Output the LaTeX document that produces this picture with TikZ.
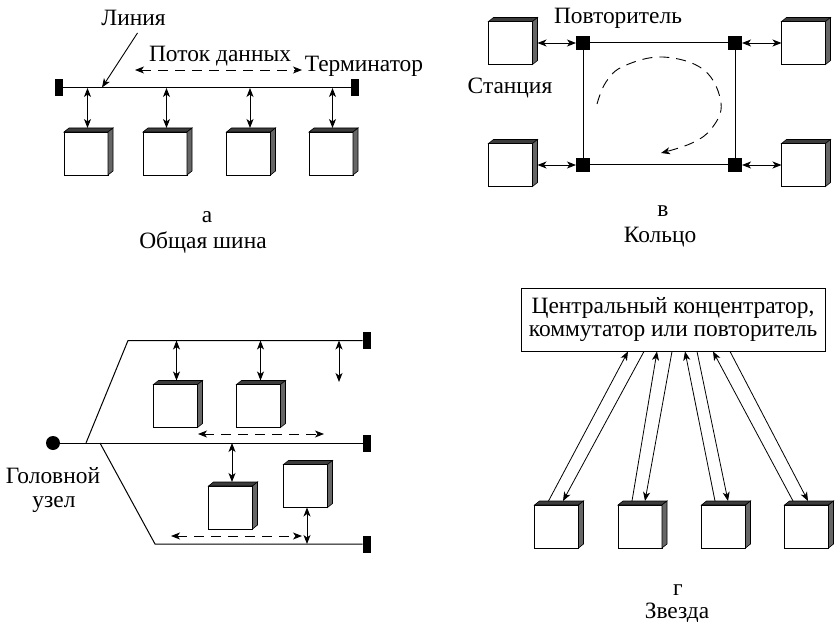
\documentclass[tikz,border=0pt]{standalone}
\usepackage{fontspec}
\setmainfont{Liberation Serif}
\newfontfamily\figfont{Liberation Serif}
\usetikzlibrary{arrows.meta}

\definecolor{cubetop}{HTML}{3C3C3C}
\definecolor{cubeside}{HTML}{666666}

% side and top faces of a station cube, drawn behind its front face
\newcommand\cubefaces[1]{%
  \filldraw[cubetop, draw=black, line width=0.6bp]
    (#1.north west) -- ++(5,-4) -- ++(44,0) -- (#1.north east) -- cycle;
  \filldraw[cubeside, draw=black, line width=0.6bp]
    (#1.north east) -- ++(5,-4) -- ++(0,43) -- (#1.south east) -- cycle;}

\begin{document}
\begin{tikzpicture}[x=1bp, y=-1bp,
  lbl/.style={font=\figfont\fontsize{23.5}{23.5}\selectfont, inner sep=0pt},
  wire/.style={line width=1bp},
  link/.style={line width=0.9bp,
    {Stealth[length=9bp,width=7bp,inset=2.5bp]}-{Stealth[length=9bp,width=7bp,inset=2.5bp]}},
  arr/.style={line width=0.8bp, -{Stealth[length=9bp,width=7bp,inset=2.5bp]}},
  flow/.style={line width=0.9bp, dash pattern=on 10bp off 7bp,
    {Stealth[length=9bp,width=7bp,inset=2.5bp]}-{Stealth[length=9bp,width=7bp,inset=2.5bp]}},
  loopflow/.style={line width=0.9bp, dash pattern=on 10bp off 7bp,
    -{Stealth[length=9bp,width=7bp,inset=2.5bp]}},
  term/.style={fill=black, minimum width=8bp, minimum height=17bp, inner sep=0pt, outer sep=0pt},
  rep/.style={fill=black, minimum size=14bp, inner sep=0pt, outer sep=0pt},
  station/.style={draw, fill=white, line width=0.8bp, minimum width=44bp,
    minimum height=43bp, inner sep=0pt, outer sep=0pt}]

\useasboundingbox (0,0) rectangle (835,622);

% ---------- (а) common bus ----------
\node[term] (tL) at (58.5,88) {};
\node[term] (tR) at (354.5,88) {};
\draw[wire] (tL) -- (tR);

\node[station] (a1) at (86,153.5) {};
\node[station] (a2) at (165,153.5) {};
\node[station] (a3) at (248.5,153.5) {};
\node[station] (a4) at (331,153.5) {};
\foreach \s in {a1,a2,a3,a4} {
  \cubefaces{\s}
  \draw[link] ([xshift=1.5bp]\s.north |- tL) -- ([xshift=1.5bp,yshift=4bp]\s.north);
}

\node[lbl] (lin) at (133.5,18) {Линия};
\coordinate (busp) at (102,87.5);
\draw[line width=0.9bp, -{Stealth[length=9bp,width=7bp,inset=2.5bp]}]
  ([xshift=4bp,yshift=-7bp]lin.south) -- (busp);

\node[lbl] (flowlbl) at (220,56) {Поток данных};
\coordinate (fa1) at (135,70);
\coordinate (fa2) at (302,70);
\draw[flow] (fa1) -- (fa2);

\node[lbl] (termlbl) at (364,66) {Терминатор};

\node[lbl, anchor=base] (capa) at (207,223) {а};
\node[lbl, anchor=base] (capa2) at (203,249) {Общая шина};

% ---------- (в) ring ----------
\node[rep] (r1) at (583,43) {};
\node[rep] (r2) at (735,43) {};
\node[rep] (r3) at (583,165) {};
\node[rep] (r4) at (735,165) {};
\draw[wire] (r1) -- (r2);
\draw[wire] (r2) -- (r4);
\draw[wire] (r4) -- (r3);
\draw[wire] (r3) -- (r1);

\node[station] (b1) at (510.5,43) {};
\node[station] (b2) at (803.5,43) {};
\node[station] (b3) at (510.5,165) {};
\node[station] (b4) at (803.5,165) {};
\foreach \s in {b1,b2,b3,b4} {\cubefaces{\s}}
\draw[link] ([xshift=5bp]b1.east) -- (r1.west);
\draw[link] ([xshift=5bp]b3.east) -- (r3.west);
\draw[link] (r2.east) -- (b2.west);
\draw[link] (r4.east) -- (b4.west);

\draw[loopflow] plot[smooth, tension=0.65] coordinates
  {(597,104) (606,82) (624,66) (663,57) (704,70) (721,103) (712,128) (692,143) (661,153)};

\node[lbl] (replbl) at (618,18) {Повторитель};
\node[lbl] (stlbl) at (510,88) {Станция};
\node[lbl, anchor=base] (capb) at (663,217) {в};
\node[lbl, anchor=base] (capb2) at (660,243) {Кольцо};

% ---------- (б) tree ----------
\node[circle, fill=black, minimum size=14bp, inner sep=0pt] (head) at (53,443) {};
\node[term] (t1) at (366.5,340.5) {};
\node[term] (t2) at (366.5,443) {};
\node[term] (t3) at (366.5,544) {};
\coordinate (jA) at (86,443);
\coordinate (jB) at (100,443);
\coordinate (kA) at (128,340.5);
\coordinate (kB) at (155,544);
\draw[wire] (head) -- (t2);
\draw[wire] (jA) -- (kA) -- (t1);
\draw[wire] (jB) -- (kB) -- (t3);

\node[station] (c1) at (175.5,406) {};
\node[station] (c2) at (258.5,406) {};
\node[station] (c3) at (230.5,507.5) {};
\node[station] (c4) at (305.5,486) {};
\foreach \s in {c1,c2,c3,c4} {\cubefaces{\s}}
\draw[link] ([xshift=1bp]c1.north |- t1) -- ([xshift=1bp,yshift=4bp]c1.north);
\draw[link] ([xshift=2bp]c2.north |- t1) -- ([xshift=2bp,yshift=4bp]c2.north);
\coordinate (free) at (339,382);
\draw[link] (free |- t1) -- (free);
\draw[link] ([xshift=1.5bp]c3.north |- t2) -- ([xshift=1.5bp,yshift=4bp]c3.north);
\draw[link] ([xshift=1.5bp]c4.south) -- ([xshift=1.5bp]c4.south |- t3);

\coordinate (m1) at (198,434);
\coordinate (m2) at (324,434);
\draw[flow] (m1) -- (m2);
\coordinate (n1) at (171,536);
\coordinate (n2) at (302,536);
\draw[flow] (n1) -- (n2);

\node[lbl, anchor=base] (headlbl) at (53,483) {Головной};
\node[lbl, anchor=base] (headlbl2) at (54,507) {узел};

% ---------- (г) star ----------
\node[draw, line width=0.9bp, lbl, align=center, minimum width=304bp,
  minimum height=63bp] (hub) at (673,319.5)
  {Центральный концентратор,\\коммутатор или повторитель};

\node[station] (g1) at (556.5,526.5) {};
\node[station] (g2) at (640,526.5) {};
\node[station] (g3) at (723.5,526.5) {};
\node[station] (g4) at (806.5,526.5) {};
\foreach \s in {g1,g2,g3,g4} {\cubefaces{\s}}

\draw[arr] ([xshift=-8bp,yshift=4bp]g1.north) -- ([xshift=-45bp]hub.south);
\draw[arr] ([xshift=-29bp]hub.south) -- ([xshift=6.5bp,yshift=4bp]g1.north);
\draw[arr] ([xshift=-8bp,yshift=4bp]g2.north) -- ([xshift=-16bp]hub.south);
\draw[arr] ([xshift=-1bp]hub.south) -- ([xshift=5bp,yshift=4bp]g2.north);
\draw[arr] ([xshift=-8.5bp,yshift=4bp]g3.north) -- ([xshift=12bp]hub.south);
\draw[arr] ([xshift=24bp]hub.south) -- ([xshift=4.5bp,yshift=4bp]g3.north);
\draw[arr] ([xshift=-13.5bp,yshift=4bp]g4.north) -- ([xshift=40bp]hub.south);
\draw[arr] ([xshift=57bp]hub.south) -- ([xshift=1.5bp,yshift=4bp]g4.north);

\node[lbl, anchor=base] (capg) at (678,595) {г};
\node[lbl, anchor=base] (capg2) at (677,618) {Звезда};

\end{tikzpicture}
\end{document}
